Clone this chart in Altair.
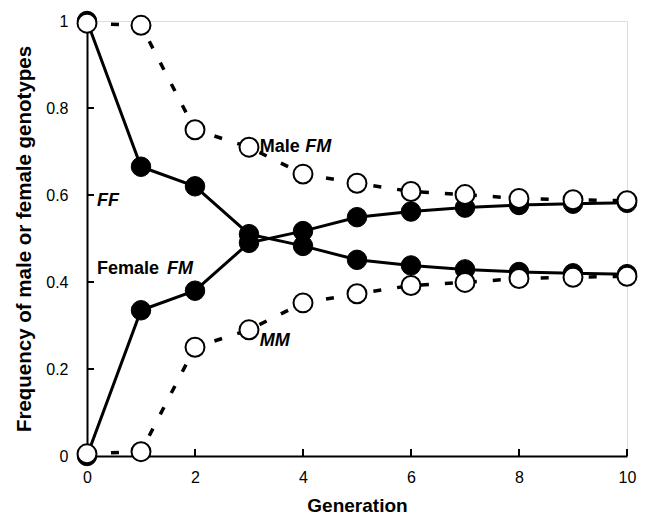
import altair as alt
import pandas as pd

generations = list(range(11))
female_ff = [1.0, 0.665, 0.62, 0.51, 0.483, 0.451, 0.438, 0.429, 0.423, 0.42, 0.418]
female_fm = [0.0, 0.335, 0.38, 0.49, 0.517, 0.549, 0.562, 0.571, 0.577, 0.58, 0.582]
male_fm = [0.995, 0.99, 0.75, 0.71, 0.648, 0.627, 0.608, 0.601, 0.592, 0.589, 0.587]
male_mm = [0.005, 0.01, 0.25, 0.29, 0.352, 0.373, 0.392, 0.399, 0.408, 0.411, 0.413]

x_ticks = [0, 2, 4, 6, 8, 10]
y_ticks = [0, 0.2, 0.4, 0.6, 0.8, 1]

ann_text = ["FF", "Male ", "FM", "Female ", "FM", "MM"]
ann_x = [0.185, 3.2, 4.04, 0.185, 1.48, 3.2]
ann_y = [0.586, 0.711, 0.711, 0.43, 0.43, 0.264]
ann_italic = [True, False, True, False, True, True]

FONT = "Liberation Sans"

rows = []
for name, vals in [("Female FF", female_ff), ("Female FM", female_fm)]:
    for g, v in zip(generations, vals):
        rows.append({"gen": g, "freq": v, "series": name})
fem = pd.DataFrame(rows)
rows = []
for name, vals in [("Male FM", male_fm), ("Male MM", male_mm)]:
    for g, v in zip(generations, vals):
        rows.append({"gen": g, "freq": v, "series": name})
mal = pd.DataFrame(rows)

ann = pd.DataFrame({"text": ann_text, "x": ann_x, "y": ann_y, "italic": ann_italic})

W, H = 540, 435
xs = alt.Scale(domain=[0, 10], nice=False)
ys = alt.Scale(domain=[0, 1], nice=False)

xax = alt.Axis(values=x_ticks, ticks=False, domainColor="black", domainWidth=2,
               labelFont=FONT, labelFontSize=16, labelColor="black", labelPadding=13,
               title="Generation", titleFont=FONT, titleFontSize=19, titleFontWeight="bold",
               titleColor="black", titlePadding=11, grid=False, labelFlush=False)
yax = alt.Axis(values=y_ticks, ticks=False, domainColor="black", domainWidth=2,
               labelFont=FONT, labelFontSize=16, labelColor="black", labelPadding=19,
               labelExpr="datum.value == 0 ? '0' : datum.value == 1 ? '1' : format(datum.value, '.1f')",
               title="Frequency of male or female genotypes", titleFont=FONT, titleFontSize=20.5,
               titleFontWeight="bold", titleColor="black", titlePadding=11, grid=False,
               labelFlush=False)

base_f = alt.Chart(fem).encode(
    x=alt.X("gen:Q", scale=xs, axis=xax),
    y=alt.Y("freq:Q", scale=ys, axis=yax),
    detail="series:N",
)
line_f = base_f.mark_line(color="black", strokeWidth=3)
pts_f = base_f.mark_point(shape="circle", filled=True, fill="black", stroke="black",
                          strokeWidth=1, size=380, opacity=1)

base_m = alt.Chart(mal).encode(
    x=alt.X("gen:Q", scale=xs),
    y=alt.Y("freq:Q", scale=ys),
    detail="series:N",
)
line_m = base_m.mark_line(color="black", strokeWidth=3.5, strokeDash=[8, 16])
pts_m = base_m.mark_point(shape="circle", filled=True, fill="white", stroke="black",
                          strokeWidth=2, size=360, opacity=1)

xt = pd.DataFrame({"v": x_ticks[1:]})
yt = pd.DataFrame({"v": y_ticks[1:-1]})
xtick = alt.Chart(xt).mark_rule(color="black", strokeWidth=2).encode(
    x=alt.X("v:Q", scale=xs), y=alt.value(H), y2=alt.value(H - 7))
ytick = alt.Chart(yt).mark_rule(color="black", strokeWidth=2).encode(
    y=alt.Y("v:Q", scale=ys), x=alt.value(0), x2=alt.value(7))

def text_layer(italic):
    return alt.Chart(ann).transform_filter(
        "datum.italic" if italic else "!datum.italic"
    ).mark_text(align="left", baseline="middle", font=FONT, fontSize=18,
                fontWeight="bold", fontStyle="italic" if italic else "normal",
                color="black").encode(
        x=alt.X("x:Q", scale=xs), y=alt.Y("y:Q", scale=ys), text="text:N")

chart = alt.layer(xtick, ytick, line_f, pts_f, line_m, pts_m,
                  text_layer(True), text_layer(False)).properties(
    width=W, height=H,
    autosize=alt.AutoSizeParams(type="none"),
    padding={"left": 79, "top": 13, "right": 12, "bottom": 60},
).configure_view(stroke=None).configure(background="white")

chart.save("out.html", embed_options={"renderer": "svg", "actions": False})
